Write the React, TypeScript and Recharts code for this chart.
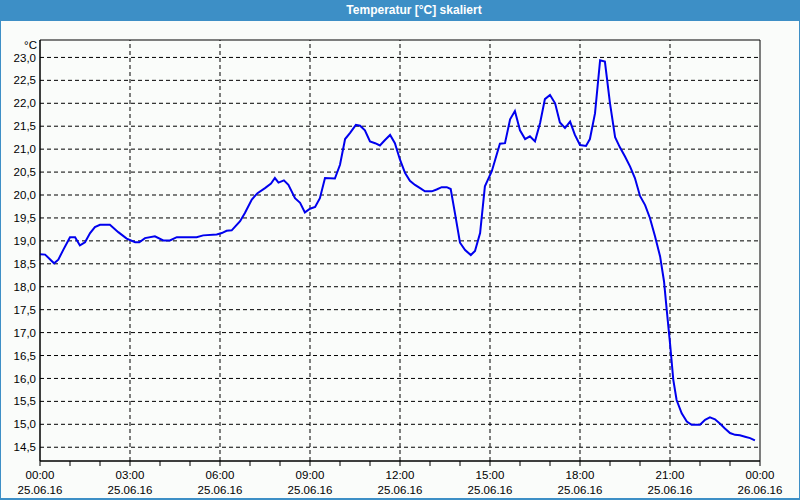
import {
  LineChart,
  Line,
  XAxis,
  YAxis,
  CartesianGrid,
  ReferenceLine,
  ReferenceArea,
} from "recharts";

// Stunden seit 25.06.16 00:00
const hours = [
  0, 0.17, 0.47, 0.61, 0.78, 1, 1.17, 1.33, 1.5, 1.67, 1.83, 2, 2.33, 2.61,
  2.89, 3.17, 3.31, 3.5, 3.83, 4.11, 4.33, 4.56, 5.22, 5.44, 5.89, 6.06, 6.22,
  6.39, 6.67, 6.83, 7.06, 7.25, 7.5, 7.7, 7.83, 7.95, 8.13, 8.28, 8.5, 8.67,
  8.83, 9, 9.17, 9.33, 9.5, 9.83, 10, 10.17, 10.33, 10.53, 10.67, 10.83, 11,
  11.17, 11.33, 11.5, 11.67, 11.83, 12, 12.17, 12.33, 12.5, 12.67, 12.83,
  13.06, 13.22, 13.39, 13.56, 13.69, 13.83, 14, 14.17, 14.36, 14.5, 14.67,
  14.83, 15.06, 15.33, 15.5, 15.67, 15.83, 16, 16.17, 16.33, 16.5, 16.67,
  16.83, 17, 17.17, 17.33, 17.5, 17.67, 17.83, 18, 18.2, 18.33, 18.5, 18.67,
  18.83, 19, 19.17, 19.33, 19.5, 19.67, 19.83, 20, 20.17, 20.33, 20.5, 20.67,
  20.8, 20.89, 21, 21.11, 21.22, 21.39, 21.56, 21.72, 22, 22.17, 22.33, 22.5,
  22.67, 22.83, 23, 23.17, 23.33, 23.5, 23.67, 23.83,
];

const temps = [
  18.71, 18.7, 18.51, 18.59, 18.81, 19.08, 19.08, 18.9, 18.97, 19.17, 19.3,
  19.35, 19.35, 19.19, 19.05, 18.97, 18.97, 19.06, 19.1, 19.01, 19.01, 19.08,
  19.08, 19.12, 19.14, 19.17, 19.22, 19.23, 19.43, 19.61, 19.9, 20.04, 20.15,
  20.25, 20.37, 20.27, 20.32, 20.22, 19.93, 19.83, 19.62, 19.7, 19.74, 19.93,
  20.37, 20.36, 20.66, 21.22, 21.35, 21.53, 21.51, 21.41, 21.17, 21.13, 21.08,
  21.2, 21.31, 21.13, 20.77, 20.48, 20.31, 20.22, 20.15, 20.08, 20.08, 20.12,
  20.17, 20.17, 20.13, 19.61, 18.96, 18.8, 18.69, 18.78, 19.17, 20.19, 20.52,
  21.12, 21.13, 21.65, 21.83, 21.41, 21.22, 21.28, 21.17, 21.57, 22.09, 22.18,
  22.0, 21.58, 21.46, 21.6, 21.31, 21.09, 21.07, 21.22, 21.78, 22.94, 22.91,
  22.0, 21.26, 21.04, 20.84, 20.62, 20.37, 19.98, 19.78, 19.5, 19.1, 18.66,
  18.12, 17.5, 16.77, 15.97, 15.53, 15.24, 15.06, 14.99, 14.99, 15.1, 15.15,
  15.11, 15.01, 14.91, 14.81, 14.77, 14.76, 14.73, 14.7, 14.65,
];

const yTicks = [
  14.5, 15, 15.5, 16, 16.5, 17, 17.5, 18, 18.5, 19, 19.5, 20, 20.5, 21, 21.5,
  22, 22.5, 23,
];
const hourTicks = Array.from({ length: 25 }, (_, i) => i);
const gridHours = [3, 6, 9, 12, 15, 18, 21];
const timeLabels = [
  "00:00", "03:00", "06:00", "09:00", "12:00", "15:00", "18:00", "21:00", "00:00",
];
const dateLabels = [
  "25.06.16", "25.06.16", "25.06.16", "25.06.16", "25.06.16", "25.06.16",
  "25.06.16", "25.06.16", "26.06.16",
];

const Y_MIN = 14.2;
const Y_MAX = 23.38;

const data = hours.map((h, i) => ({ h, t: temps[i] }));

const FONT = "'Liberation Sans', Arial, sans-serif";

const TimeTick = (props: any) => {
  const { x, y, payload } = props;
  const v = payload.value;
  if (v % 3 !== 0) return null;
  const idx = v / 3;
  return (
    <g>
      <text x={x} y={y + 12.5} textAnchor="middle" fontSize={11.5} fill="#000" fontFamily={FONT}>
        {timeLabels[idx]}
      </text>
      <text x={x} y={y + 27.5} textAnchor="middle" fontSize={11.5} fill="#000" fontFamily={FONT}>
        {dateLabels[idx]}
      </text>
    </g>
  );
};

export default function App() {
  return (
    <div
      style={{
        position: "absolute",
        left: 0,
        top: 0,
        width: 800,
        height: 500,
        background: "#3d8fc6",
        overflow: "hidden",
      }}
    >
      <div
        style={{
          position: "absolute",
          left: 414 - 200,
          width: 400,
          top: 3,
          textAlign: "center",
          color: "#fff",
          fontFamily: FONT,
          fontWeight: "bold",
          fontSize: 12,
          lineHeight: "14px",
        }}
      >
        Temperatur [°C] skaliert
      </div>
      <div
        style={{
          position: "absolute",
          left: 1,
          top: 21,
          width: 798,
          height: 477,
          background: "#fafcfa",
        }}
      />
      <div style={{ position: "absolute", left: 0, top: 0 }}>
        <LineChart
          width={800}
          height={500}
          data={data}
          margin={{ top: 40, right: 40, bottom: 0, left: 0 }}
        >
          <CartesianGrid
            vertical={false}
            stroke="#000"
            strokeDasharray="4 3"
            horizontalValues={yTicks}
          />
          {gridHours.map((g) => (
            <ReferenceLine
              key={g}
              x={g}
              stroke="#000"
              strokeDasharray="4 3"
              ifOverflow="hidden"
            />
          ))}
          <XAxis
            dataKey="h"
            type="number"
            domain={[0, 24]}
            ticks={hourTicks}
            interval={0}
            height={39}
            tickSize={5}
            tickMargin={0}
            axisLine={{ stroke: "#000", strokeWidth: 1 }}
            tickLine={{ stroke: "#000" }}
            tick={<TimeTick />}
          />
          <YAxis
            type="number"
            domain={[Y_MIN, Y_MAX]}
            allowDataOverflow
            ticks={yTicks}
            interval={0}
            width={40}
            tickSize={0}
            tickMargin={4}
            axisLine={{ stroke: "#000", strokeWidth: 1 }}
            tickFormatter={(v: number) => v.toFixed(1).replace(".", ",")}
            tick={{ fill: "#000", fontSize: 11.5, fontFamily: FONT }}
            label={({ viewBox }: any) => (
              <text
                x={viewBox.x + viewBox.width - 3}
                y={viewBox.y + 9}
                textAnchor="end"
                fontSize={11.5}
                fontFamily={FONT}
                fill="#000"
              >
                °C
              </text>
            )}
          />
          <Line
            type="linear"
            dataKey="t"
            stroke="#0000ee"
            strokeWidth={2}
            dot={false}
            isAnimationActive={false}
          />
          <ReferenceArea
            x1={0}
            x2={24}
            y1={Y_MIN}
            y2={Y_MAX}
            fill="none"
            fillOpacity={0}
            stroke="#000"
            strokeWidth={1}
          />
        </LineChart>
      </div>
    </div>
  );
}
